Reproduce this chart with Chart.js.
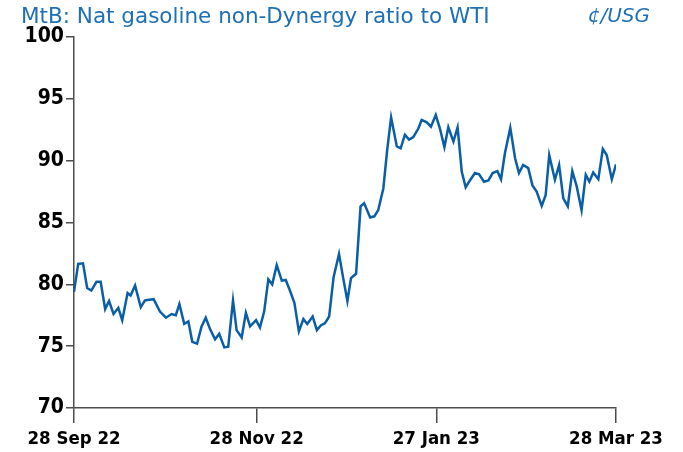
<!DOCTYPE html>
<html>
<head>
<meta charset="utf-8">
<script src="https://cdn.jsdelivr.net/npm/chart.js@4.4.1/dist/chart.umd.min.js"></script>
<style>
  html, body { margin: 0; padding: 0; background: #ffffff; }
  #wrap { position: relative; width: 683px; height: 452px; overflow: hidden; }
  #chart { position: absolute; left: 0; top: 0; }
  .title { position: absolute; top: 3px; left: 21px; font-family: "DejaVu Sans", sans-serif; font-size: 21.5px; color: #1d6fb6; white-space: nowrap; }
  .unit { position: absolute; top: 3px; right: 33px; font-family: "DejaVu Sans", sans-serif; font-style: italic; font-size: 20px; color: #1d6fb6; white-space: nowrap; }
</style>
</head>
<body>
<div id="wrap">
  <canvas id="chart" width="683" height="452"></canvas>
  <div class="title">MtB: Nat gasoline non-Dynergy ratio to WTI</div>
  <div class="unit">¢/USG</div>
</div>
<script>
// Days since 28 Sep 22
const dayOffsets = [0, 1.4, 3.0, 4.4, 5.8, 7.5, 8.9, 10.4, 11.7, 13.2, 14.8, 16.1, 17.9, 18.9, 20.4, 22.3, 23.7, 25.1, 26.6, 28.7,
  30.7, 32.6, 34.0, 35.2, 36.8, 38.2, 39.5, 41.1, 42.6, 44.0, 45.4, 47.1, 48.5, 50.2, 51.5, 53.1, 54.3, 56.0, 57.4, 58.8,
  60.8, 62.1, 63.5, 64.9, 66.2, 67.7, 69.4, 70.7, 72.1, 73.6, 75.1, 76.6, 77.9, 79.7, 81.1, 82.5, 83.8, 85.2, 86.7, 88.5,
  89.9, 91.3, 92.5, 94.2, 95.7, 96.9, 98.9, 100.3, 101.6, 103.3, 104.6, 105.9, 107.8, 109.1, 110.5, 111.9, 113.3, 115.0, 116.1, 117.8,
  119.2, 120.8, 122.2, 123.7, 125.0, 126.7, 128.1, 129.5, 130.8, 132.2, 133.9, 135.3, 136.9, 138.4, 139.8, 141.4, 142.6, 143.9, 145.7, 147.3,
  148.6, 150.0, 151.7, 153.1, 154.5, 156.2, 157.5, 158.7, 160.6, 162.0, 163.4, 164.9, 166.4, 167.9, 169.5, 170.9, 172.1, 173.4, 175.1, 176.6,
  177.9, 179.6, 181.0];
// Ratio values
const ratioValues = [79.4, 81.65, 81.7, 79.7, 79.5, 80.2, 80.2, 78.0, 78.65, 77.6, 78.1, 77.1, 79.3, 79.1, 79.9, 78.15, 78.7, 78.75, 78.8, 77.8,
  77.3, 77.6, 77.5, 78.4, 76.8, 77.0, 75.35, 75.2, 76.6, 77.3, 76.4, 75.55, 76.0, 74.9, 74.95, 78.7, 76.3, 75.7, 77.7, 76.6,
  77.1, 76.5, 77.8, 80.4, 80.0, 81.55, 80.3, 80.35, 79.5, 78.5, 76.2, 77.2, 76.8, 77.4, 76.3, 76.7, 76.85, 77.4, 80.6, 82.45,
  80.5, 78.65, 80.5, 80.85, 86.3, 86.55, 85.4, 85.5, 86.0, 87.75, 90.9, 93.5, 91.15, 91.0, 92.1, 91.7, 91.9, 92.6, 93.3, 93.1,
  92.75, 93.7, 92.6, 91.1, 92.7, 91.55, 92.7, 89.1, 87.85, 88.4, 89.0, 88.9, 88.3, 88.4, 89.0, 89.15, 88.5, 90.6, 92.65, 90.2,
  89.0, 89.65, 89.4, 88.0, 87.5, 86.35, 87.2, 90.45, 88.45, 89.65, 86.95, 86.3, 89.15, 87.9, 86.0, 88.85, 88.3, 89.05, 88.5, 90.95,
  90.45, 88.5, 89.7];
const xTickDays = [0, 61, 121, 181];
const xTickLabels = ["28 Sep 22", "28 Nov 22", "27 Jan 23", "28 Mar 23"];
const yTicks = [70, 75, 80, 85, 90, 95, 100];

const points = dayOffsets.map((d, i) => ({ x: d, y: ratioValues[i] }));
const axisColor = "#4d4d4d";
const xTickFont = { family: "'DejaVu Sans Condensed', 'DejaVu Sans', sans-serif", size: 18.5, weight: "bold" };
const yTickFont = { family: "'DejaVu Sans Condensed', 'DejaVu Sans', sans-serif", size: 21, weight: "bold" };

new Chart(document.getElementById("chart"), {
  type: "line",
  data: {
    datasets: [{
      data: points,
      borderColor: "#0a5ea8",
      borderWidth: 2.5,
      pointRadius: 0,
      tension: 0,
      fill: false
    }]
  },
  options: {
    responsive: false,
    animation: false,
    layout: { padding: { left: 0, right: 67, top: 37, bottom: 0 } },
    plugins: { legend: { display: false }, tooltip: { enabled: false }, title: { display: false } },
    scales: {
      x: {
        type: "linear",
        min: 0,
        max: 181,
        afterBuildTicks: (scale) => { scale.ticks = xTickDays.map(v => ({ value: v })); },
        afterFit: (scale) => { scale.height = 44; },
        ticks: {
          autoSkip: false,
          maxRotation: 0,
          color: "#000000",
          font: xTickFont,
          padding: 5,
          callback: (value) => { const i = xTickDays.indexOf(value); return i >= 0 ? xTickLabels[i] : ""; }
        },
        grid: { drawOnChartArea: false, drawTicks: true, tickLength: 15, color: axisColor, lineWidth: 1.5 },
        border: { display: true, color: axisColor, width: 1.5 }
      },
      y: {
        min: 70,
        max: 100,
        afterBuildTicks: (scale) => { scale.ticks = yTicks.map(v => ({ value: v })); },
        afterFit: (scale) => { scale.width = 74; },
        ticks: {
          color: "#000000",
          font: yTickFont,
          padding: 2,
          callback: (value) => String(value)
        },
        grid: { drawOnChartArea: false, drawTicks: true, tickLength: 8, color: axisColor, lineWidth: 1.5 },
        border: { display: true, color: axisColor, width: 1.5 }
      }
    }
  }
});
</script>
</body>
</html>
